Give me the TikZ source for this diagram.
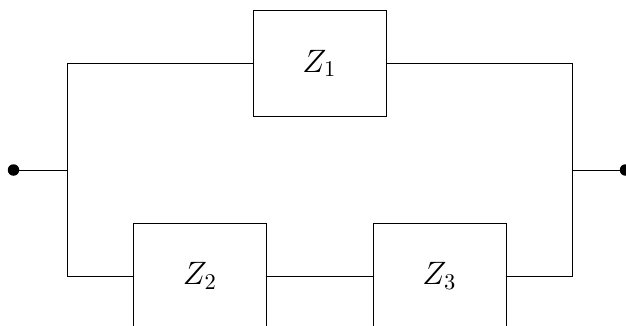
\documentclass[tikz,border=0pt]{standalone}
\usepackage{graphicx}
\newcommand{\zlabel}[1]{\scalebox{2.25}{\Large$#1$}}
\begin{document}
\begin{tikzpicture}[x=1pt,y=-1pt,line width=0.75pt,
  zbox/.style={draw,rectangle,minimum width=133pt,minimum height=106pt,inner sep=0pt,outer sep=0pt},
  term/.style={circle,fill=black,draw=none,minimum size=11.5pt,inner sep=0pt,outer sep=0pt}]
\useasboundingbox (0,0) rectangle (626,326);
\clip (0,0) rectangle (626,326);
\node[zbox] (z1) at (319.5,63.5) {\zlabel{Z_1}};
\node[zbox] (z2) at (200,276) {\zlabel{Z_2}};
\node[zbox] (z3) at (439.5,276) {\zlabel{Z_3}};
\node[term] (a) at (13.5,170) {};
\node[term] (b) at (625.5,170) {};
\coordinate (jl) at (67.3,170);
\coordinate (jr) at (572,170);
\draw (a) -- (jl);
\draw (b) -- (jr);
\draw (z1.west) -| (jl);
\draw (z1.east) -| (jr);
\draw (z2.west) -| (jl);
\draw (z3.east) -| (jr);
\draw (z2.east) -- (z3.west);
\end{tikzpicture}
\end{document}
